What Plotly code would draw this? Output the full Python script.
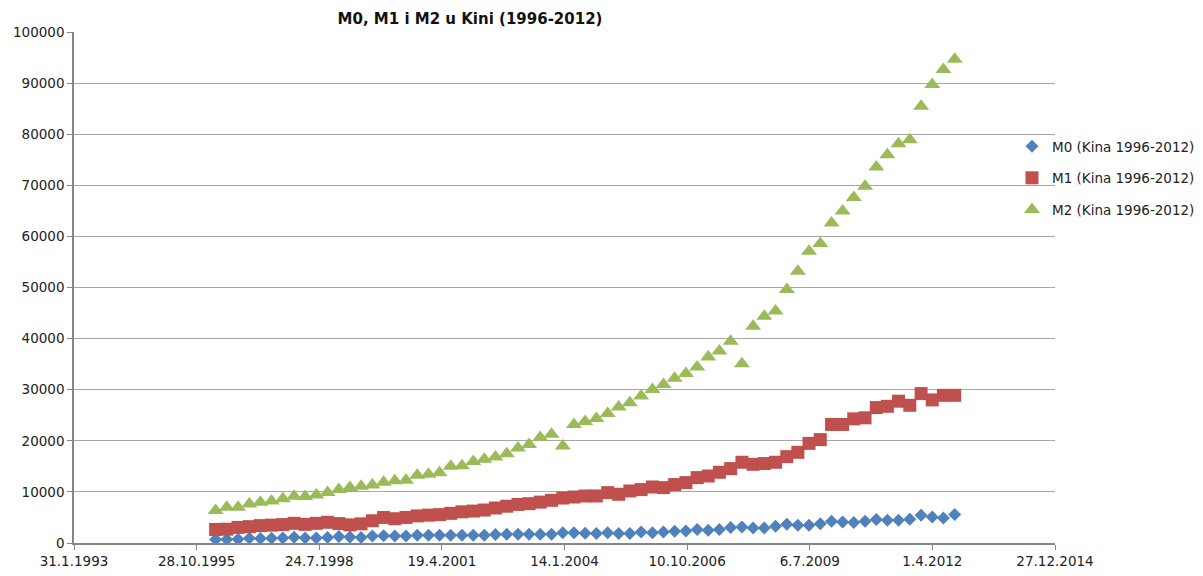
import datetime as dt
import plotly.graph_objects as go

# ---- data (quarterly, 1996Q1 .. 2012Q3) ----
start_year = 1996
n_points = 67

m0 = [700, 700, 750, 950, 880, 950, 980, 1120, 1000, 1000, 1100, 1250, 1150, 1100, 1350, 1400,
      1370, 1370, 1510, 1510, 1510, 1510, 1510, 1510, 1510, 1640, 1700, 1700, 1700, 1700, 1700,
      2030, 2030, 1900, 1840, 2030, 1840, 1840, 2150, 2030, 2150, 2290, 2350, 2620, 2490, 2620,
      3010, 3130, 2940, 2940, 3270, 3660, 3460, 3460, 3790, 4250, 4110, 3990, 4250, 4580, 4440,
      4440, 4640, 5420, 5090, 4890, 5560]

m1 = [2650, 2700, 3050, 3200, 3400, 3500, 3600, 3850, 3650, 3850, 4050, 3800, 3550, 3750, 4350,
      5000, 4750, 5000, 5300, 5450, 5550, 5800, 6100, 6250, 6450, 6850, 7200, 7550, 7700, 8000,
      8350, 8800, 9000, 9200, 9200, 9860, 9530, 10180, 10450, 10960, 10840, 11430, 11820, 12800,
      13110, 13840, 14560, 15800, 15400, 15550, 15800, 16900, 17750, 19500, 20230, 23200, 23200,
      24300, 24500, 26500, 26750, 27750, 26950, 29240, 28000, 28900, 28900]

m2 = [6340, 6980, 6980, 7650, 7980, 8220, 8640, 9150, 9100, 9400, 9900, 10450, 10840, 11100,
      11350, 11880, 12200, 12270, 13250, 13440, 13770, 15010, 15140, 15930, 16380, 16830, 17490,
      18590, 19260, 20630, 21270, 18990, 23170, 23800, 24340, 25320, 26620, 27470, 28770, 30020,
      31000, 32230, 33150, 34440, 36400, 37570, 39470, 35100, 42400, 44360, 45400, 49590, 53170,
      57080, 58590, 62620, 64970, 67590, 69800, 73580, 76000, 78150, 78930, 85450, 89720, 92650,
      94660]

names = ["M0 (Kina 1996-2012)", "M1 (Kina 1996-2012)", "M2 (Kina 1996-2012)"]
tick_labels = ["31.1.1993", "28.10.1995", "24.7.1998", "19.4.2001", "14.1.2004",
               "10.10.2006", "6.7.2009", "1.4.2012", "27.12.2014"]
title_text = "M0, M1 i M2 u Kini (1996-2012)"

# ---- quarter-end dates ----
qe = [(3, 31), (6, 30), (9, 30), (12, 31)]
dates = []
for i in range(n_points):
    y = start_year + i // 4
    m, d = qe[i % 4]
    dates.append(dt.date(y, m, d))

tick_start = dt.date(1993, 1, 31)
tick_vals = [tick_start + dt.timedelta(days=1000 * k) for k in range(len(tick_labels))]

colors = ["#4F81BD", "#C0504D", "#9BBB59"]
symbols = ["diamond", "square", "triangle-up"]
sizes = [10, 13, 14]
series = [m0, m1, m2]

fig = go.Figure()
for i in range(3):
    fig.add_trace(go.Scatter(
        x=dates, y=series[i], mode="markers", name=names[i],
        legendgroup=f"g{i}",
        marker=dict(symbol=symbols[i], size=sizes[i], color=colors[i], line=dict(width=0)),
    ))

W, H = 1203, 576
L, R, T, B = 74, 148, 32, 33
PW, PH = W - L - R, H - T - B

font_family = "DejaVu Sans, Verdana, sans-serif"
fs = 13.5
fig.update_layout(
    width=W, height=H,
    margin=dict(l=L, r=R, t=T, b=B, autoexpand=False),
    paper_bgcolor="white", plot_bgcolor="white",
    font=dict(family=font_family, size=fs, color="#222"),
    title=dict(text="<b>" + title_text + "</b>", x=470 / W, xanchor="center",
               y=1 - 13 / H, yanchor="top",
               font=dict(family=font_family, size=15, color="#111")),
    showlegend=True,
    legend=dict(x=(1012 - L) / PW, y=1 - (131 - T) / PH, xanchor="left", yanchor="top",
                yref="paper", xref="paper",
                font=dict(size=fs, family=font_family, color="#222"),
                tracegroupgap=11, bgcolor="rgba(0,0,0,0)", itemwidth=30),
)
fig.update_xaxes(
    type="date", automargin=False,
    range=[tick_vals[0], tick_vals[-1]],
    tickvals=tick_vals, ticktext=tick_labels,
    showgrid=False, zeroline=False,
    showline=True, linecolor="#868686", linewidth=1.5,
    ticks="outside", ticklen=5, tickcolor="#868686",
    tickfont=dict(size=fs, family=font_family, color="#222"),
)
fig.update_yaxes(
    automargin=False,
    range=[0, 100000], dtick=10000, tickformat="d",
    showgrid=True, gridcolor="#A6A6A6", gridwidth=1.2,
    zeroline=False,
    showline=True, linecolor="#868686", linewidth=1.5,
    ticks="outside", ticklen=5, tickcolor="#868686",
    tickfont=dict(size=fs, family=font_family, color="#222"),
)

fig.write_html("out.html", config={"displayModeBar": False},
               post_script="document.body.style.margin='0';document.body.style.overflow='hidden';")
